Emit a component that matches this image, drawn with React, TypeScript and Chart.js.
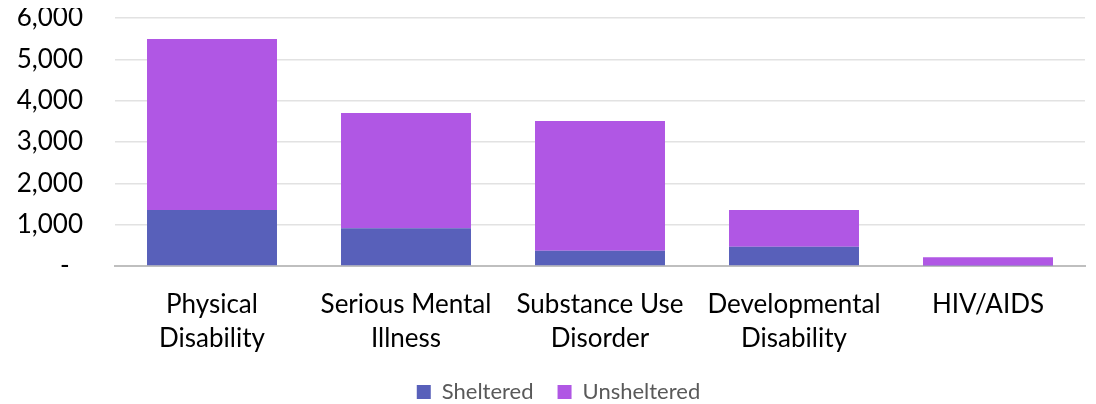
import React, { useEffect, useRef } from "react";
import { Chart, registerables } from "chart.js";

Chart.register(...registerables);

const categories: string[][] = [
  ["Physical", "Disability"],
  ["Serious Mental", "Illness"],
  ["Substance Use", "Disorder"],
  ["Developmental", "Disability"],
  ["HIV/AIDS"],
];
const sheltered: number[] = [1355, 915, 370, 465, 10];
const unsheltered: number[] = [4135, 2785, 3140, 890, 200];
const yTicks: number[] = [0, 1000, 2000, 3000, 4000, 5000, 6000];

const FONT = "Lato, 'Open Sans', sans-serif";

const adjustLayout = {
  id: "adjustLayout",
  afterLayout(chart: any) {
    const lg = chart.legend;
    if (lg) {
      const dy = 9;
      const dx = 12;
      lg.top += dy;
      lg.bottom += dy;
      lg.left += dx;
      lg.right += dx;
    }
    const xs = chart.scales.x;
    if (xs) {
      xs.bottom += 24;
      xs.height += 24;
    }
  },
};

export default function App() {
  const ref = useRef<HTMLCanvasElement | null>(null);
  useEffect(() => {
    if (!ref.current) return;
    const chart = new Chart(ref.current, {
      type: "bar",
      data: {
        labels: categories,
        datasets: [
          {
            label: "Sheltered",
            data: sheltered,
            backgroundColor: "#5860BA",
            barPercentage: 0.67,
            categoryPercentage: 1,
          },
          {
            label: "Unsheltered",
            data: unsheltered,
            backgroundColor: "#B057E4",
            barPercentage: 0.67,
            categoryPercentage: 1,
          },
        ],
      },
      plugins: [adjustLayout],
      options: {
        animation: false,
        responsive: true,
        maintainAspectRatio: false,
        layout: { padding: { left: 0, right: 3, top: 10, bottom: 0 } },
        plugins: {
          tooltip: { enabled: false },
          legend: {
            position: "bottom",
            labels: {
              boxWidth: 14,
              boxHeight: 14,
              padding: 24,
              color: "#595959",
              font: { family: FONT, size: 22 },
            },
          },
        },
        scales: {
          x: {
            stacked: true,
            grid: { display: false, drawTicks: false },
            border: { display: true, color: "#bfbfbf", width: 2 },
            afterFit: (scale: any) => {
              scale.height = 82;
              scale.paddingLeft = 0;
              scale.paddingRight = 0;
            },
            ticks: {
              color: "#000",
              padding: 22,
              maxRotation: 0,
              autoSkip: false,
              font: { family: FONT, size: 26, lineHeight: "34px" },
            },
          },
          y: {
            stacked: true,
            min: 0,
            max: 6000,
            afterBuildTicks: (scale: any) => {
              scale.ticks = yTicks.map((v) => ({ value: v }));
            },
            afterFit: (scale: any) => {
              scale.width = 107;
              scale.paddingTop = 0;
              scale.paddingBottom = 0;
            },
            border: { display: false },
            grid: { color: "#e2e2e2", lineWidth: 1.5, drawTicks: false },
            ticks: {
              color: "#000",
              padding: 32,
              font: { family: FONT, size: 26 },
              callback: (v: any) => (Number(v) === 0 ? "-  " : Number(v).toLocaleString("en-US")),
            },
          },
        },
      },
    });
    return () => chart.destroy();
  }, []);
  return (
    <div style={{ width: 1080, height: 396, position: "relative" }}>
      <canvas ref={ref} />
    </div>
  );
}
